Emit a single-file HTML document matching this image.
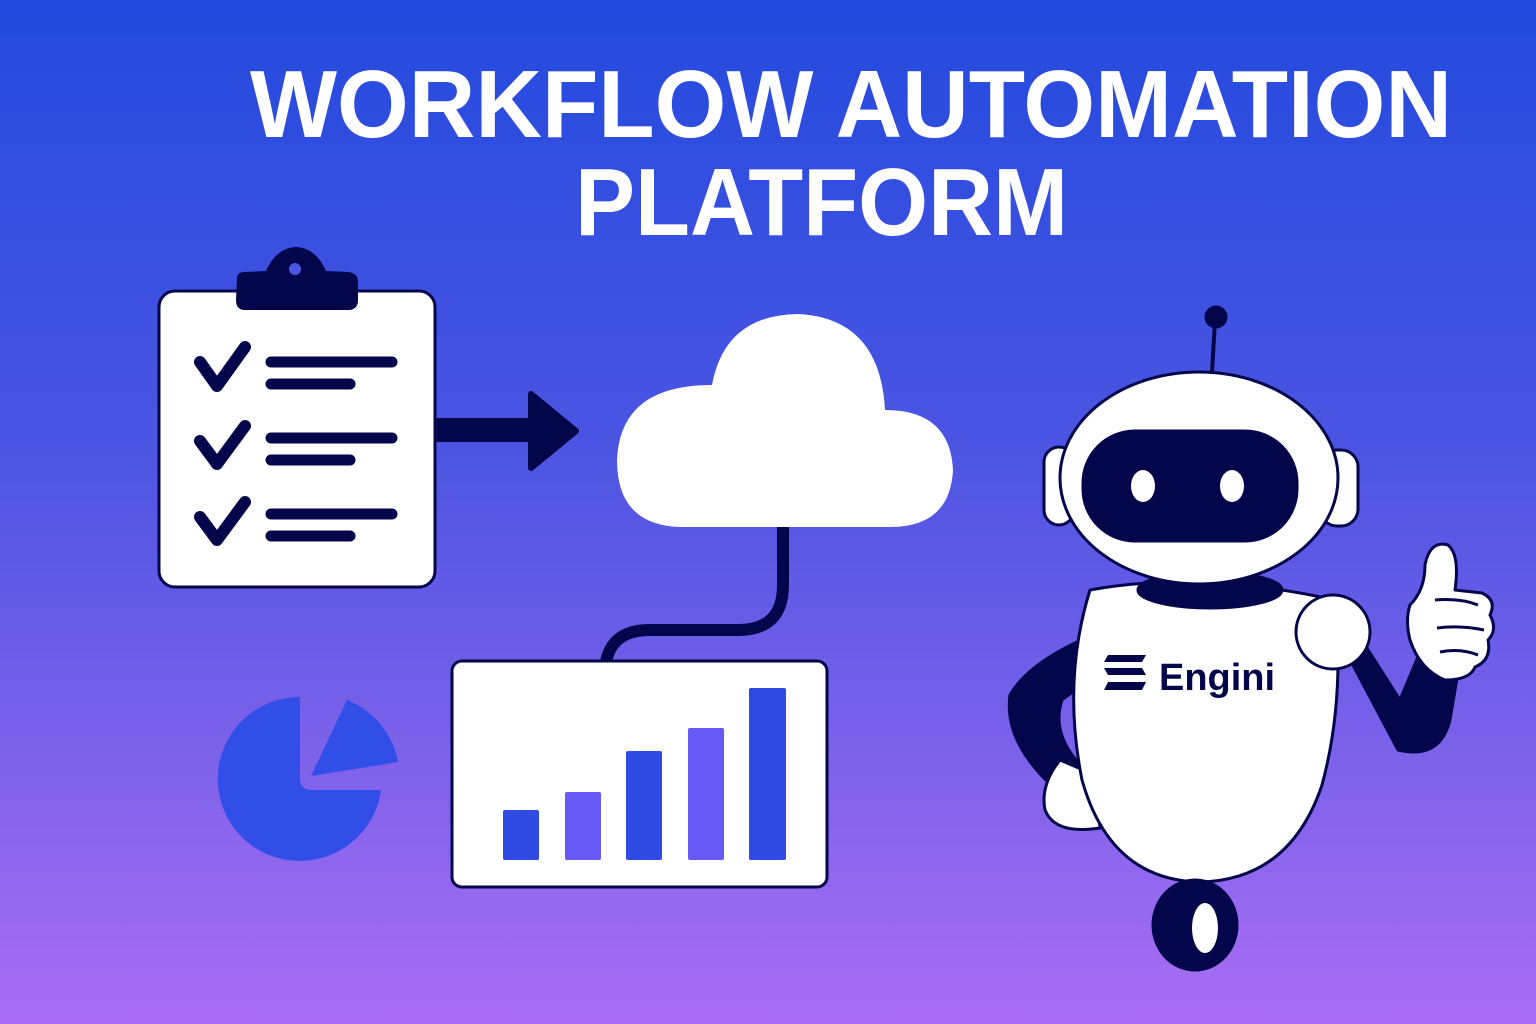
<!DOCTYPE html>
<html><head><meta charset="utf-8"><style>
html,body{margin:0;padding:0;width:1536px;height:1024px;overflow:hidden}
svg{display:block}
</style></head><body>
<svg width="1536" height="1024" viewBox="0 0 1536 1024" xmlns="http://www.w3.org/2000/svg">
<defs>
<linearGradient id="bg" x1="0" y1="0" x2="0" y2="1">
<stop offset="0" stop-color="#224ADE"/>
<stop offset="0.45" stop-color="#4D55E2"/>
<stop offset="1" stop-color="#A96DF3"/>
</linearGradient>
</defs>
<rect width="1536" height="1024" fill="url(#bg)"/>
<g font-family="Liberation Sans, sans-serif" font-weight="bold" fill="#fff" font-size="96">
<text x="250" y="137" textLength="1202" lengthAdjust="spacingAndGlyphs">WORKFLOW AUTOMATION</text>
<text x="575" y="235" textLength="493" lengthAdjust="spacingAndGlyphs">PLATFORM</text>
</g>
<g stroke="#03064A" fill="none" stroke-linecap="round" stroke-linejoin="round">
<rect x="159" y="291" width="276" height="296" rx="16" fill="#fff" stroke-width="3"/>
<path d="M237 278 Q237 272 245 272 L266 271 Q276 248 296 247 Q316 248 326 271 L348 272 Q358 273 358 282 L358 300 Q358 310 348 310 L245 310 Q236 310 236 300 Z" fill="#03064A" stroke="none"/>
<circle cx="295" cy="269" r="6" fill="#4A55E2" stroke="none"/>
<g stroke-width="12">
<path d="M200 362 L217 386 L245 347"/>
<path d="M200 441 L217 464 L245 426"/>
<path d="M200 517 L217 540 L245 502"/>
</g>
<g stroke-width="11">
<path d="M271 362 H392 M271 384 H350"/>
<path d="M271 438 H392 M271 460 H350"/>
<path d="M271 514 H392 M271 536 H350"/>
</g>
<rect x="436" y="418" width="96" height="24" fill="#03064A" stroke="none"/>
<path d="M531 394 L576 431 L531 468 Z" fill="#03064A" stroke-width="6"/>
<path d="M783 522 V585 Q783 630 738 630 H650 Q612 630 606 662" stroke-width="12"/>
</g>
<path d="M680 527 Q617 525 617 460 Q620 385 712 385 Q725 315 798 314 Q880 318 885 410 Q950 410 953 470 Q950 527 890 527 Z" fill="#fff"/>
<rect x="452" y="661" width="375" height="226" rx="10" fill="#fff" stroke="#03064A" stroke-width="3"/>
<g>
<rect x="503" y="810" width="36" height="50" rx="2" fill="#2F4AE3"/>
<rect x="565" y="792" width="36" height="68" rx="2" fill="#6659F5"/>
<rect x="626" y="751" width="36" height="109" rx="2" fill="#2F4AE3"/>
<rect x="688" y="728" width="36" height="132" rx="2" fill="#6659F5"/>
<rect x="749" y="688" width="37" height="172" rx="2" fill="#2F4AE3"/>
</g>
<path d="M300 697 L300 778 Q300 790 312 790 L381 790 A82 82 0 1 1 300 697 Z" fill="#314EE8"/>
<path d="M311 776 L347 700 A82 82 0 0 1 398 762 Z" fill="#314EE8"/>
<g stroke="#03064A" stroke-width="3" stroke-linejoin="round">
<line x1="1212" y1="372" x2="1215" y2="320" stroke-width="4"/>
<circle cx="1216" cy="317" r="10" fill="#03064A"/>
<path d="M1100 632 Q1030 660 1010 695 Q1003 745 1062 795 L1085 770 Q1050 735 1062 700 Q1080 685 1100 680 Z" fill="#03064A"/>
<path d="M1060 760 Q1040 785 1045 810 Q1055 835 1100 828 L1095 775 Z" fill="#fff"/>
<path d="M1345 650 L1398 750 Q1440 760 1450 720 L1460 660 L1425 640 L1400 700 L1365 645 Z" fill="#03064A"/>
<path d="M1090 590 Q1200 570 1335 600 Q1345 700 1322 785 Q1290 880 1200 882 Q1110 880 1082 780 Q1062 680 1090 590 Z" fill="#fff"/>
<ellipse cx="1210" cy="590" rx="72" ry="18" fill="#03064A"/>
<circle cx="1333" cy="632" r="37" fill="#fff"/>
<path d="M1425 565 Q1430 540 1448 545 Q1460 555 1455 590 L1482 593 Q1497 600 1490 615 Q1498 630 1488 640 Q1492 660 1475 667 Q1470 680 1445 680 Q1420 670 1410 640 Q1405 620 1410 605 Q1425 590 1425 565 Z" fill="#fff"/>
<path d="M1435 600 Q1460 598 1478 605 M1437 628 Q1460 625 1484 630 M1440 652 Q1460 648 1478 655" fill="none"/>
<ellipse cx="1195" cy="925" rx="42" ry="45" fill="#03064A"/>
<ellipse cx="1205" cy="928" rx="13" ry="25" fill="#fff" stroke="none"/>
<rect x="1044" y="447" width="30" height="78" rx="15" fill="#fff"/>
<rect x="1320" y="450" width="38" height="76" rx="17" fill="#fff"/>
<ellipse cx="1199" cy="478" rx="139" ry="106" fill="#fff"/>
<rect x="1083" y="431" width="214" height="110" rx="52" fill="#03064A"/>
<ellipse cx="1143" cy="486" rx="12" ry="16" fill="#fff" stroke="none"/>
<ellipse cx="1232" cy="486" rx="12" ry="16" fill="#fff" stroke="none"/>
</g>
<g fill="#03064A">
<path d="M1108 655 H1146 L1142 662 H1104 Z"/>
<path d="M1104 668 H1142 L1146 675 H1108 Z"/>
<path d="M1108 682 H1146 L1142 690 H1104 Z"/>
</g>
<text x="1159" y="690" font-family="Liberation Sans, sans-serif" font-weight="bold" font-size="38" fill="#03064A" textLength="116" lengthAdjust="spacingAndGlyphs">Engini</text>
</svg>
</body></html>
